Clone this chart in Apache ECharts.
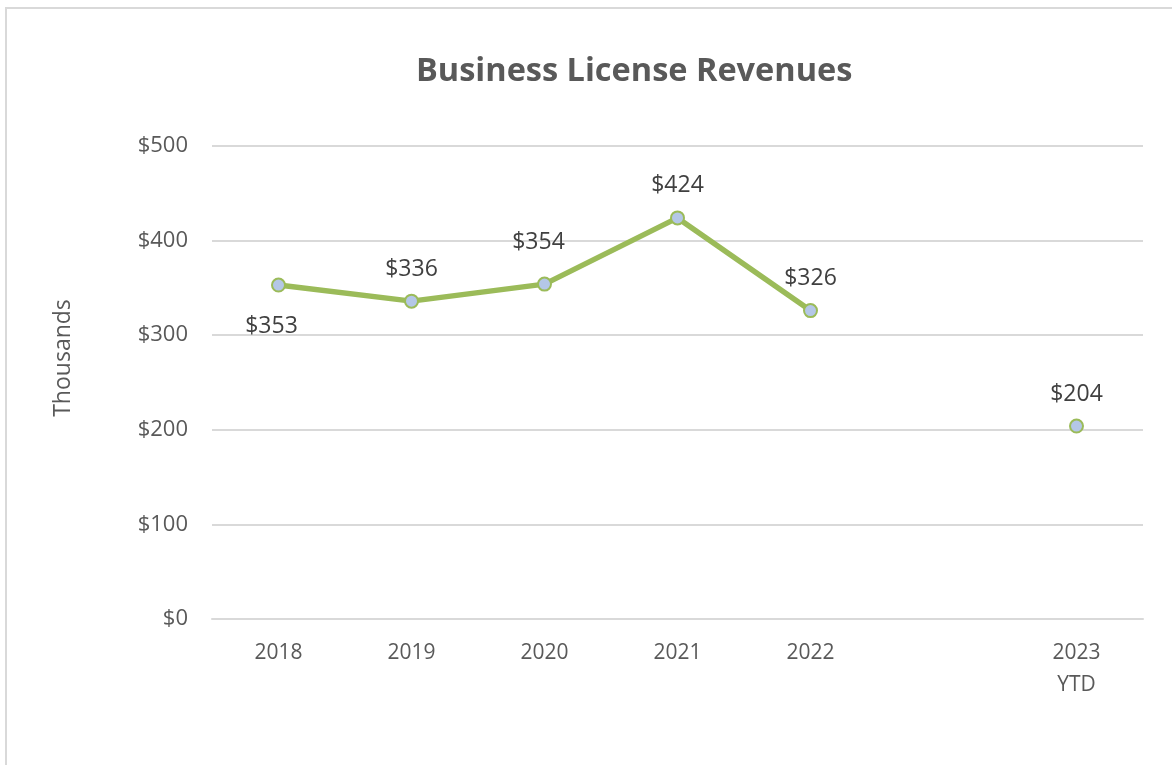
<!DOCTYPE html>
<html>
<head>
    <meta charset="utf-8" />
    <script src="https://cdn.jsdelivr.net/npm/echarts@6/dist/echarts.min.js"></script>
    <style>
        html, body { margin: 0; padding: 0; background: #fff; overflow: hidden; }
        #frame { position: absolute; left: 5px; top: 7px; width: 1300px; height: 900px;
                 border-left: 2px solid #d9d9d9; border-top: 2px solid #d9d9d9; }
        #chart { position: absolute; left: 0; top: 0; width: 1172px; height: 765px; }
    </style>
</head>
<body>
    <div id="frame"></div>
    <div id="chart"></div>
    <script type="text/javascript">
        // 数据
        var years = ['2018', '2019', '2020', '2021', '2022', '', '2023\nYTD'];
        var revenues = [353, 336, 354, 424, 326, null, 204];
        var yTicks = [0, 100, 200, 300, 400, 500];

        var myChart = echarts.init(document.getElementById('chart'));

        var seriesData = revenues.map(function (v, i) {
            var item = { value: v };
            if (i === 0) {
                item.label = { position: 'bottom', distance: 22, offset: [-7, 0] };
            }
            if (i === 2) {
                item.label = { offset: [-6, -10] };
            }
            return item;
        });

        var option = {
            animation: false,
            title: {
                text: 'Business License Revenues',
                left: 411,
                top: 50,
                textStyle: {
                    fontFamily: 'Open Sans',
                    fontWeight: 'bold',
                    fontSize: 32.5,
                    color: '#595959'
                }
            },
            graphic: [{
                type: 'text',
                x: 63,
                y: 358,
                rotation: Math.PI / 2,
                style: {
                    text: 'Thousands',
                    fontFamily: 'Open Sans',
                    fontSize: 23,
                    fill: '#595959',
                    align: 'center',
                    verticalAlign: 'middle'
                }
            }],
            grid: {
                left: 212,
                right: 29,
                top: 146,
                bottom: 146
            },
            xAxis: {
                type: 'category',
                data: years,
                boundaryGap: true,
                axisLine: { lineStyle: { color: '#d9d9d9', width: 2 } },
                axisTick: { show: false },
                axisLabel: {
                    interval: 0,
                    margin: 18,
                    fontFamily: 'Open Sans',
                    fontSize: 21,
                    lineHeight: 32,
                    color: '#595959'
                }
            },
            yAxis: {
                type: 'value',
                min: yTicks[0],
                max: yTicks[yTicks.length - 1],
                interval: 100,
                axisLine: { show: false },
                axisTick: { show: false },
                splitLine: { lineStyle: { color: '#d9d9d9', width: 2 } },
                axisLabel: {
                    margin: 24,
                    fontFamily: 'Open Sans',
                    fontSize: 22,
                    color: '#595959',
                    formatter: function (v) { return '$' + v; }
                }
            },
            series: [{
                type: 'line',
                data: seriesData,
                connectNulls: false,
                showAllSymbol: true,
                symbol: 'circle',
                symbolSize: 13,
                lineStyle: { color: '#9bbb59', width: 5.5 },
                itemStyle: { color: '#b4c7e7', borderColor: '#9bbb59', borderWidth: 2 },
                label: {
                    show: true,
                    position: 'top',
                    distance: 13,
                    fontFamily: 'Open Sans',
                    fontSize: 23,
                    color: '#404040',
                    formatter: function (p) { return '$' + p.value; }
                }
            }]
        };

        myChart.setOption(option);
    </script>
</body>
</html>
